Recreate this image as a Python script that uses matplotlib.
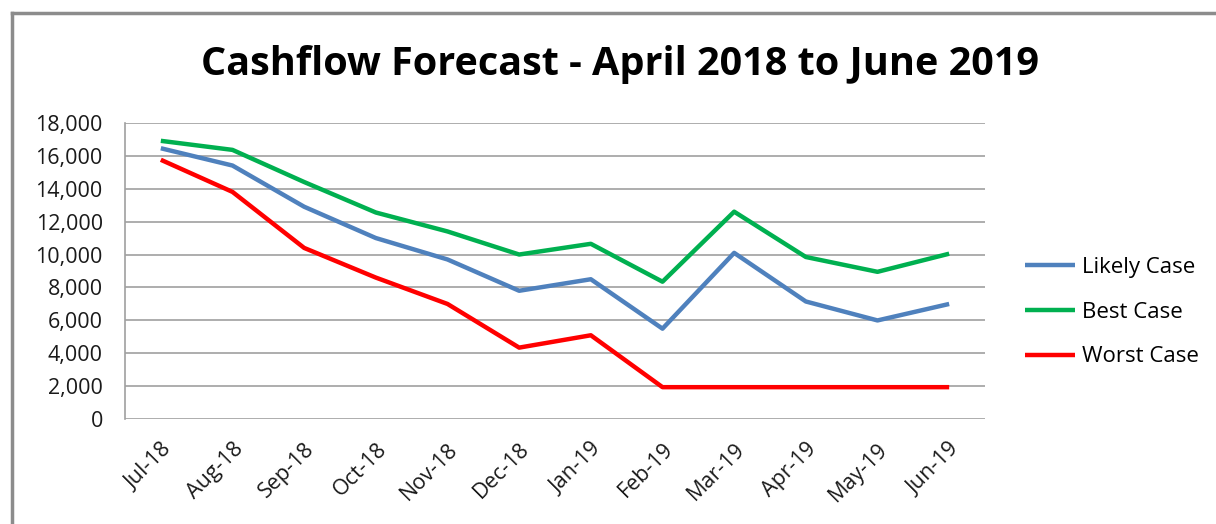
import matplotlib
matplotlib.use("Agg")
import matplotlib.pyplot as plt
from matplotlib.lines import Line2D

months = ['Jul-18', 'Aug-18', 'Sep-18', 'Oct-18', 'Nov-18', 'Dec-18',
          'Jan-19', 'Feb-19', 'Mar-19', 'Apr-19', 'May-19', 'Jun-19']
likely_case = [16450, 15400, 12900, 11000, 9700, 7800, 8500, 5500, 10100, 7150, 6000, 7000]
best_case = [16900, 16350, 14400, 12550, 11400, 10000, 10650, 8350, 12600, 9850, 8950, 10050]
worst_case = [15750, 13800, 10400, 8600, 7000, 4350, 5100, 1950, 1950, 1950, 1950, 1950]
y_ticks = list(range(0, 18001, 2000))

plt.rcParams['font.family'] = ['Open Sans', 'DejaVu Sans']

fig = plt.figure(figsize=(12.16, 5.24), dpi=100)
ax = fig.add_axes([125 / 1216, 1 - 419.3 / 524, (985 - 125) / 1216, (419.3 - 122.7) / 524])

# outer chart frame (top and left edges visible)
fig.add_artist(Line2D([12 / 1216, 12 / 1216], [0, 1 - 13 / 524], color='#8c8c8c', lw=2.5,
                      transform=fig.transFigure))
fig.add_artist(Line2D([12 / 1216, 1], [1 - 13 / 524, 1 - 13 / 524], color='#8c8c8c', lw=2.5,
                      transform=fig.transFigure))

xs = range(len(months))
ax.plot(xs, likely_case, color='#4F81BD', lw=3.2, label='Likely Case', solid_capstyle='butt')
ax.plot(xs, best_case, color='#00B050', lw=3.2, label='Best Case', solid_capstyle='butt')
ax.plot(xs, worst_case, color='#FF0000', lw=3.2, label='Worst Case', solid_capstyle='butt')

ax.set_xlim(-0.5, len(months) - 0.5)
ax.set_ylim(0, 18000)
ax.set_yticks(y_ticks)
ax.set_yticklabels([f'{v:,}' for v in y_ticks], fontsize=15.5)
ax.set_xticks(list(xs))
ax.set_xticklabels(months, fontsize=15.5, rotation=45, ha='right', va='top', rotation_mode='anchor')
ax.tick_params(axis='y', length=0, pad=16, colors='#1a1a1a')
ax.tick_params(axis='x', length=0, pad=14, colors='#1a1a1a')

ax.grid(axis='y', color='#a0a0a0', lw=1.2)
ax.set_axisbelow(True)
for side in ['top', 'right', 'bottom']:
    ax.spines[side].set_visible(False)
ax.spines['left'].set_color('#a0a0a0')
ax.spines['left'].set_linewidth(1.2)

fig.text(620 / 1216, 1 - 64 / 524, 'Cashflow Forecast - April 2018 to June 2019',
         ha='center', va='center', fontsize=28.5, fontweight='bold')

fig.legend(loc='center left', bbox_to_anchor=(1025 / 1216, 1 - 312 / 524), frameon=False,
           fontsize=16, handlelength=2.25, handletextpad=0.3, labelspacing=1.08,
           borderpad=0, borderaxespad=0)

fig.savefig('out.png', dpi=100)
